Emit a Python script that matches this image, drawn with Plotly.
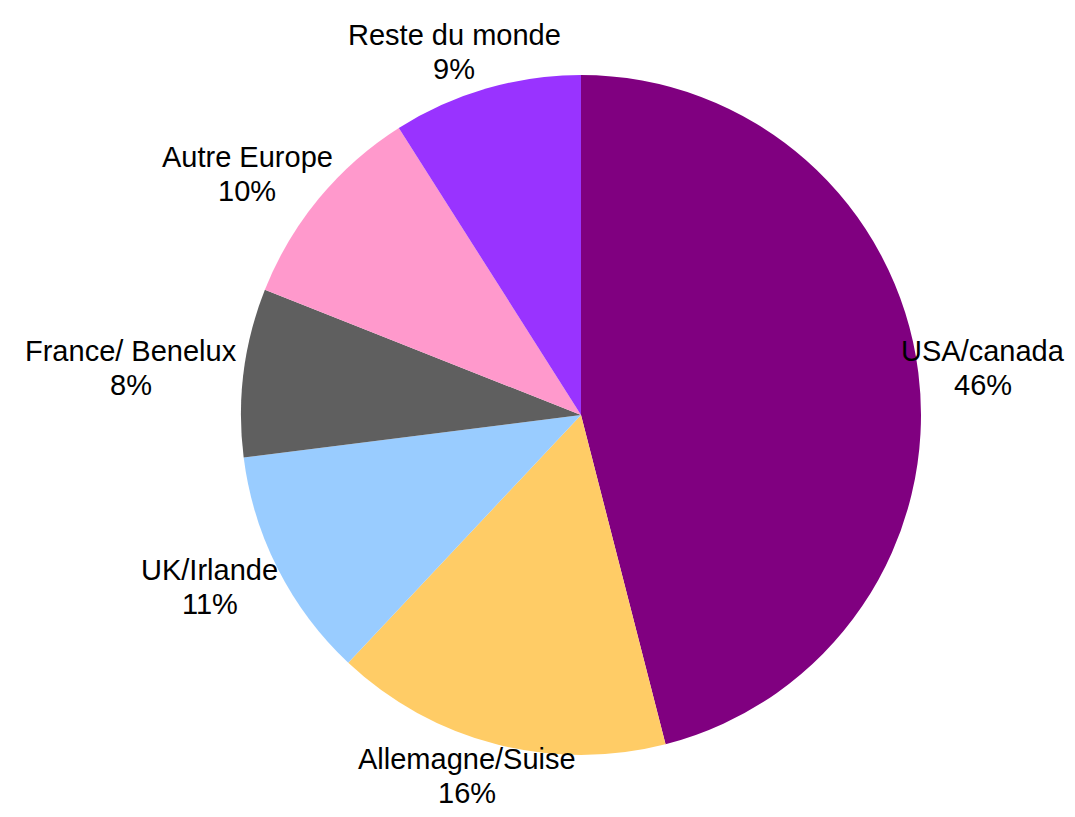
import math
import plotly.graph_objects as go

labels = ["USA/canada", "Allemagne/Suise", "UK/Irlande", "France/ Benelux", "Autre Europe", "Reste du monde"]
values = [46, 16, 11, 8, 10, 9]
colors = ["#800080", "#FFCC66", "#99CCFF", "#5F5F5F", "#FF99CC", "#9933FF"]

# figure size (page body has an 8px margin, so the figure sits at 8,8 in the window)
W, H = 1059, 801
cx, cy, r = 573, 407, 340
FS = 29
FONT = "Liberation Sans, Arial"

# Arial / Liberation Sans advance widths (per 1000 em), used to size label boxes
_AW = {" ": 278, "%": 889, "/": 278, "A": 667, "B": 667, "E": 667, "F": 611, "I": 278,
       "K": 667, "R": 722, "S": 667, "U": 722, "a": 556, "c": 500, "d": 556, "e": 556,
       "g": 556, "i": 222, "l": 222, "m": 833, "n": 556, "o": 556, "p": 556, "r": 333,
       "s": 500, "t": 278, "u": 556, "x": 500}


def text_w(t):
    return sum(_AW.get(ch, 556) for ch in t) / 1000 * FS


fig = go.Figure(go.Pie(
    labels=labels,
    values=values,
    sort=False,
    direction="clockwise",
    rotation=0,
    marker=dict(colors=colors, line=dict(width=0)),
    textinfo="none",
    hoverinfo="label+percent",
    showlegend=False,
    domain=dict(x=[(cx - r) / W, (cx + r) / W], y=[1 - (cy + r) / H, 1 - (cy - r) / H]),
))

# place labels outside each slice, along the mid-angle of the slice
total = sum(values)
cum = 0.0
gap = 8
annotations = []
for lab, v in zip(labels, values):
    mid = (cum + v / 2) / total * 2 * math.pi
    cum += v
    s, c = math.sin(mid), math.cos(mid)
    pct = f"{round(100 * v / total)}%"
    hw = max(text_w(lab), text_w(pct)) / 2
    hh = 30
    px = cx + (r + gap) * s + hw * s
    py = cy - (r + gap) * c - hh * c
    # keep the label inside the figure
    px = min(max(px, hw + 3), W - hw - 3)
    py = min(max(py, hh + 3), H - hh - 3)
    annotations.append(dict(
        x=px / W, y=1 - py / H, xref="paper", yref="paper",
        text=lab, showarrow=False, xanchor="center", yanchor="bottom",
        yshift=-1, font=dict(family=FONT, size=FS, color="#000000"),
    ))
    annotations.append(dict(
        x=px / W, y=1 - py / H, xref="paper", yref="paper",
        text=pct, showarrow=False, xanchor="center", yanchor="top",
        yshift=1, font=dict(family=FONT, size=FS, color="#000000"),
    ))

fig.update_layout(
    width=W, height=H,
    margin=dict(l=0, r=0, t=0, b=0),
    paper_bgcolor="white",
    plot_bgcolor="white",
    annotations=annotations,
)

fig.write_html("out.html")
